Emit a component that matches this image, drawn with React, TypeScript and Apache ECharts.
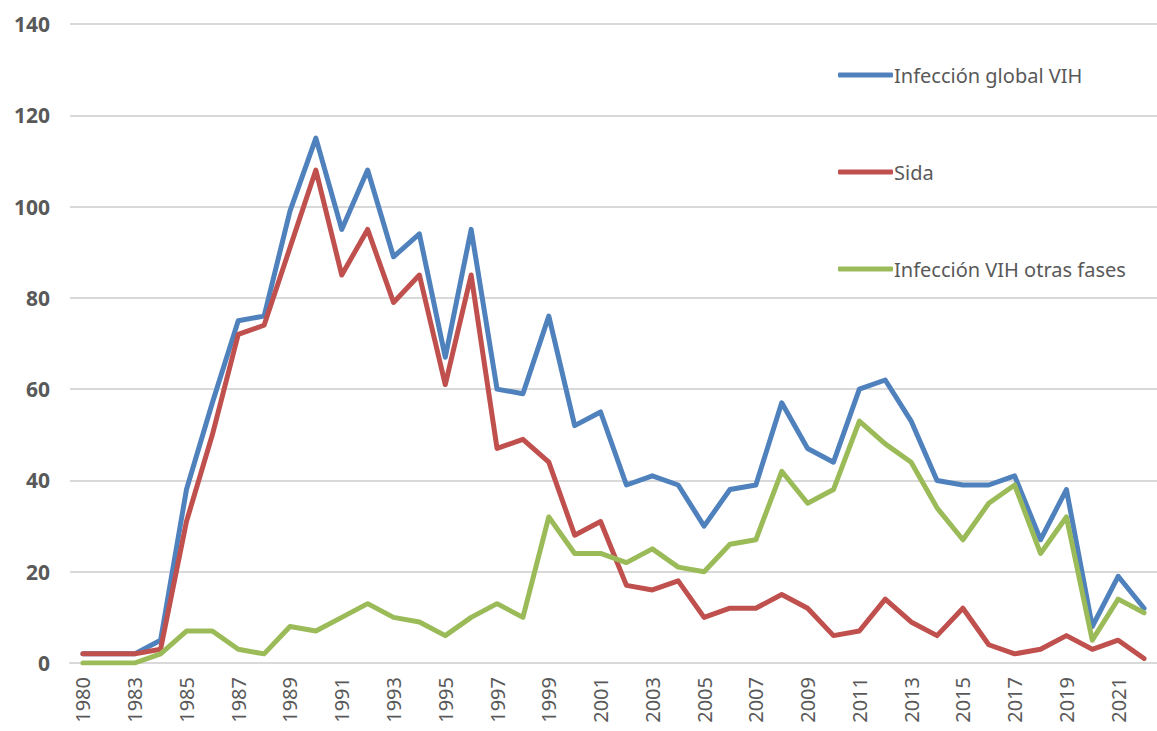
import React, { useEffect, useRef } from "react";
import * as echarts from "echarts";

const years = [
  "1980", "1982", "1983", "1984", "1985", "1986", "1987", "1988", "1989", "1990",
  "1991", "1992", "1993", "1994", "1995", "1996", "1997", "1998", "1999", "2000",
  "2001", "2002", "2003", "2004", "2005", "2006", "2007", "2008", "2009", "2010",
  "2011", "2012", "2013", "2014", "2015", "2016", "2017", "2018", "2019", "2020",
  "2021", "2022",
];

const globalVIH = [
  2, 2, 2, 5, 38, 57, 75, 76, 99, 115,
  95, 108, 89, 94, 67, 95, 60, 59, 76, 52,
  55, 39, 41, 39, 30, 38, 39, 57, 47, 44,
  60, 62, 53, 40, 39, 39, 41, 27, 38, 8,
  19, 12,
];

const sida = [
  2, 2, 2, 3, 31, 50, 72, 74, 91, 108,
  85, 95, 79, 85, 61, 85, 47, 49, 44, 28,
  31, 17, 16, 18, 10, 12, 12, 15, 12, 6,
  7, 14, 9, 6, 12, 4, 2, 3, 6, 3,
  5, 1,
];

const otrasFases = [
  0, 0, 0, 2, 7, 7, 3, 2, 8, 7,
  10, 13, 10, 9, 6, 10, 13, 10, 32, 24,
  24, 22, 25, 21, 20, 26, 27, 42, 35, 38,
  53, 48, 44, 34, 27, 35, 39, 24, 32, 5,
  14, 11,
];

const seriesNames = ["Infección global VIH", "Sida", "Infección VIH otras fases"];
const colors = ["#4F81BD", "#C0504D", "#9BBB59"];

export default function App() {
  const ref = useRef<HTMLDivElement>(null);
  useEffect(() => {
    document.body.style.margin = "0";
    const chart = echarts.init(ref.current!, null, { renderer: "svg" });
    const textColor = "#595959";
    const font = "'Noto Sans', 'Open Sans', sans-serif";
    const lineStyle = (c: string) => ({ width: 5, color: c, join: "round", cap: "round" });
    chart.setOption({
      animation: false,
      backgroundColor: "#ffffff",
      color: colors,
      grid: { left: 70, right: -11, top: 24, bottom: 68, containLabel: false },
      legend: {
        orient: "vertical",
        left: 833,
        top: 60,
        itemWidth: 55,
        itemHeight: 5,
        itemGap: 77,
        icon: "roundRect",
        textStyle: { color: textColor, fontSize: 20, fontFamily: font, padding: [0, 0, 0, -4] },
        data: seriesNames,
      },
      xAxis: {
        type: "category",
        data: years,
        boundaryGap: true,
        axisLine: { lineStyle: { color: "#d9d9d9", width: 2 } },
        axisTick: { show: false },
        axisLabel: {
          interval: 1,
          rotate: 90,
          margin: 14,
          color: textColor,
          fontSize: 20,
          fontFamily: font,
        },
      },
      yAxis: {
        type: "value",
        min: 0,
        max: 140,
        interval: 20,
        axisLine: { show: false },
        axisTick: { show: false },
        splitLine: { lineStyle: { color: "#d9d9d9", width: 2 } },
        axisLabel: {
          margin: 20,
          color: textColor,
          fontSize: 21,
          fontWeight: "bold",
          fontFamily: font,
        },
      },
      series: [
        { name: seriesNames[0], type: "line", data: globalVIH, showSymbol: false, symbol: "none", lineStyle: lineStyle(colors[0]) },
        { name: seriesNames[1], type: "line", data: sida, showSymbol: false, symbol: "none", lineStyle: lineStyle(colors[1]) },
        { name: seriesNames[2], type: "line", data: otrasFases, showSymbol: false, symbol: "none", lineStyle: lineStyle(colors[2]) },
      ],
    });
    return () => chart.dispose();
  }, []);
  return <div ref={ref} style={{ width: 1157, height: 731 }} />;
}
